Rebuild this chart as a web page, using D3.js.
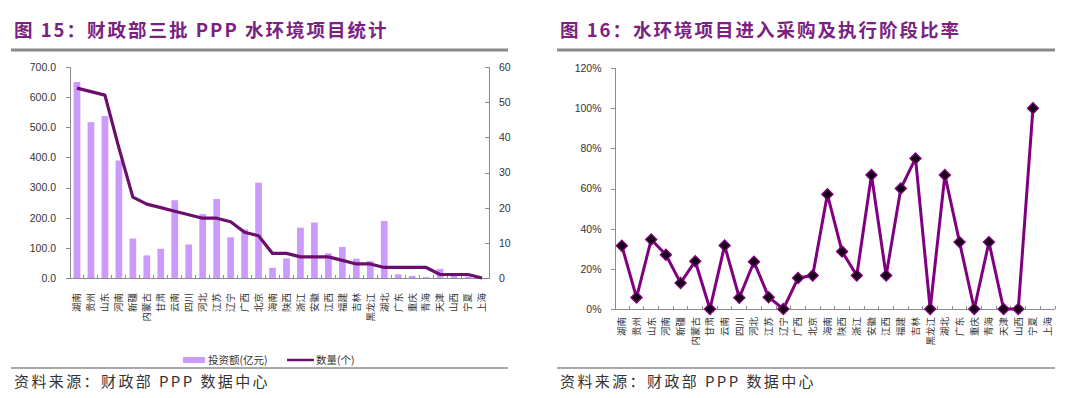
<!DOCTYPE html>
<head>
<meta charset="utf-8">
<title>PPP 水环境项目</title>
<style>
body { margin: 0; background: #fff; width: 1080px; height: 398px; overflow: hidden; }
svg { display: block; }
.tick text { font-family: "Liberation Sans", Arial, sans-serif; font-size: 10.5px; fill: #333; }
.axis path, .axis line { stroke: #8c8c8c; shape-rendering: crispEdges; }
.cat { font-family: "Noto Sans CJK SC", sans-serif; font-size: 9.5px; fill: #333; }
.title { font-family: "Noto Sans CJK SC", sans-serif; font-weight: bold; font-size: 18.5px; fill: #7b2180; letter-spacing: 2px; }
.source { font-family: "Noto Sans CJK SC", sans-serif; font-size: 15px; fill: #333; letter-spacing: 2.4px; }
.legend { font-family: "Noto Sans CJK SC", sans-serif; font-size: 10.5px; fill: #333; }
</style>
<script src="https://cdn.jsdelivr.net/npm/d3@7"></script>
</head>
<body>
<script>
// provinces, sorted by number of projects
var provinces = ["湖南","贵州","山东","河南","新疆","内蒙古","甘肃","云南","四川","河北",
  "江苏","辽宁","广西","北京","海南","陕西","浙江","安徽","江西","福建",
  "吉林","黑龙江","湖北","广东","重庆","青海","天津","山西","宁夏","上海"];

// 投资额(亿元)
var invest = [650, 517, 537, 390, 131, 75, 97, 258, 111, 212,
  262, 135, 161, 316, 34, 65, 167, 184, 82, 103,
  64, 56, 189, 12, 7, 3, 30, 7, 5, 0];

// 数量(个)
var counts = [54, 53, 52, 37, 23, 21, 20, 19, 18, 17,
  17, 16, 13, 12, 7, 7, 6, 6, 6, 5,
  4, 4, 3, 3, 3, 3, 1, 1, 1, 0];

// 进入采购及执行阶段比率 (%), 上海 has none
var ratio = [31.5, 5.7, 34.6, 27.0, 13.0, 23.8, 0, 31.6, 5.6, 23.5,
  5.9, 0, 15.4, 16.7, 57.1, 28.6, 16.7, 66.7, 16.7, 60,
  75, 0, 66.7, 33.3, 0, 33.3, 0, 0, 100, null];

var leftTicks = [0, 100, 200, 300, 400, 500, 600, 700];
var rightTicks = [0, 10, 20, 30, 40, 50, 60];
var pctTicks = [0, 20, 40, 60, 80, 100, 120];

var barColor = "#cc99ff",
    countColor = "#6b0f6e",
    ratioColor = "#800080";

var svg = d3.select("body").append("svg")
    .attr("width", 1080)
    .attr("height", 398);

// headers and footers
function frame(x0, x1, title) {
  svg.append("text").attr("class", "title")
      .attr("x", x0 + 3).attr("y", 37).text(title);
  svg.append("line")
      .attr("x1", x0).attr("x2", x1).attr("y1", 50).attr("y2", 50)
      .attr("stroke", "#8a8a8a").attr("stroke-width", 2.8);
  svg.append("line")
      .attr("x1", x0).attr("x2", x1).attr("y1", 368).attr("y2", 368)
      .attr("stroke", "#555").attr("stroke-width", 1.2);
  svg.append("text").attr("class", "source")
      .attr("x", x0 + 3).attr("y", 387).text("资料来源：财政部 PPP 数据中心");
}
frame(11, 508, "图 15：财政部三批 PPP 水环境项目统计");
frame(557, 1055, "图 16：水环境项目进入采购及执行阶段比率");

// ---- left chart ----
var x = d3.scaleBand().domain(provinces).range([70, 489]);
var xBar = d3.scaleBand().domain(provinces).range([70, 489]).paddingInner(0.52).paddingOuter(0.26);
var yL = d3.scaleLinear().domain([0, 700]).range([278, 67]);
var yR = d3.scaleLinear().domain([0, 60]).range([278, 67]);

svg.append("g").attr("class", "axis")
    .attr("transform", "translate(70,0)")
    .call(d3.axisLeft(yL).tickValues(leftTicks).tickFormat(d3.format(".1f")).tickSize(4).tickPadding(10));

svg.append("g").attr("class", "axis")
    .attr("transform", "translate(489,0)")
    .call(d3.axisRight(yR).tickValues(rightTicks).tickSize(-4).tickPadding(10));

svg.selectAll(".bar")
    .data(provinces)
  .enter().append("rect")
    .attr("class", "bar")
    .attr("x", function(d) { return xBar(d); })
    .attr("width", xBar.bandwidth())
    .attr("y", function(d, i) { return yL(invest[i]); })
    .attr("height", function(d, i) { return yL(0) - yL(invest[i]); })
    .attr("fill", barColor);

// x axis with ticks at band edges, pointing up
var xl = svg.append("g").attr("class", "axis");
xl.append("line").attr("x1", 70).attr("x2", 489).attr("y1", 278.5).attr("y2", 278.5);
xl.selectAll(".edge")
    .data(provinces.slice(1))
  .enter().append("line")
    .attr("x1", function(d) { return x(d); })
    .attr("x2", function(d) { return x(d); })
    .attr("y1", 278).attr("y2", 275);

svg.append("path")
    .datum(counts)
    .attr("fill", "none")
    .attr("stroke", countColor)
    .attr("stroke-width", 3.2)
    .attr("stroke-linejoin", "round")
    .attr("d", d3.line()
      .x(function(d, i) { return x(provinces[i]) + x.bandwidth() / 2; })
      .y(function(d) { return yR(d); }));

svg.selectAll(".catL")
    .data(provinces)
  .enter().append("text")
    .attr("class", "cat")
    .attr("text-anchor", "end")
    .attr("dy", "0.35em")
    .attr("transform", function(d) {
      return "translate(" + (x(d) + x.bandwidth() / 2) + ",293) rotate(-90)";
    })
    .text(function(d) { return d; });

// legend
svg.append("rect").attr("x", 183).attr("y", 357).attr("width", 22).attr("height", 6).attr("fill", barColor);
svg.append("text").attr("class", "legend").attr("x", 208).attr("y", 364).text("投资额(亿元)");
svg.append("line").attr("x1", 287).attr("x2", 314).attr("y1", 360).attr("y2", 360)
    .attr("stroke", countColor).attr("stroke-width", 2.5);
svg.append("text").attr("class", "legend").attr("x", 316).attr("y", 364).text("数量(个)");

// ---- right chart ----
var x2 = d3.scaleBand().domain(provinces).range([614.5, 1055]);
var y2 = d3.scaleLinear().domain([0, 120]).range([309, 68]);

svg.append("g").attr("class", "axis")
    .attr("transform", "translate(614.5,0)")
    .call(d3.axisLeft(y2).tickValues(pctTicks).tickFormat(function(d) { return d + "%"; }).tickSize(4).tickPadding(9));

var xr = svg.append("g").attr("class", "axis");
xr.append("line").attr("x1", 614.5).attr("x2", 1055).attr("y1", 309.5).attr("y2", 309.5);
xr.selectAll(".edge")
    .data(provinces.slice(1).concat(["end"]))
  .enter().append("line")
    .attr("x1", function(d) { return d === "end" ? 1055 : x2(d); })
    .attr("x2", function(d) { return d === "end" ? 1055 : x2(d); })
    .attr("y1", 309).attr("y2", 306);

var pts = ratio.map(function(v, i) { return {p: provinces[i], v: v}; })
    .filter(function(d) { return d.v !== null; });

svg.append("path")
    .datum(pts)
    .attr("fill", "none")
    .attr("stroke", ratioColor)
    .attr("stroke-width", 3)
    .attr("stroke-linejoin", "round")
    .attr("d", d3.line()
      .x(function(d) { return x2(d.p) + x2.bandwidth() / 2; })
      .y(function(d) { return y2(d.v); }));

svg.selectAll(".mark")
    .data(pts)
  .enter().append("path")
    .attr("class", "mark")
    .attr("d", d3.symbol().type(d3.symbolSquare).size(62))
    .attr("transform", function(d) {
      return "translate(" + (x2(d.p) + x2.bandwidth() / 2) + "," + y2(d.v) + ") rotate(45)";
    })
    .attr("fill", "#140014")
    .attr("stroke", ratioColor)
    .attr("stroke-width", 1.3);

svg.selectAll(".catR")
    .data(provinces)
  .enter().append("text")
    .attr("class", "cat")
    .attr("text-anchor", "end")
    .attr("dy", "0.35em")
    .attr("transform", function(d) {
      return "translate(" + (x2(d) + x2.bandwidth() / 2) + ",317) rotate(-90)";
    })
    .text(function(d) { return d; });
</script>
</body>
